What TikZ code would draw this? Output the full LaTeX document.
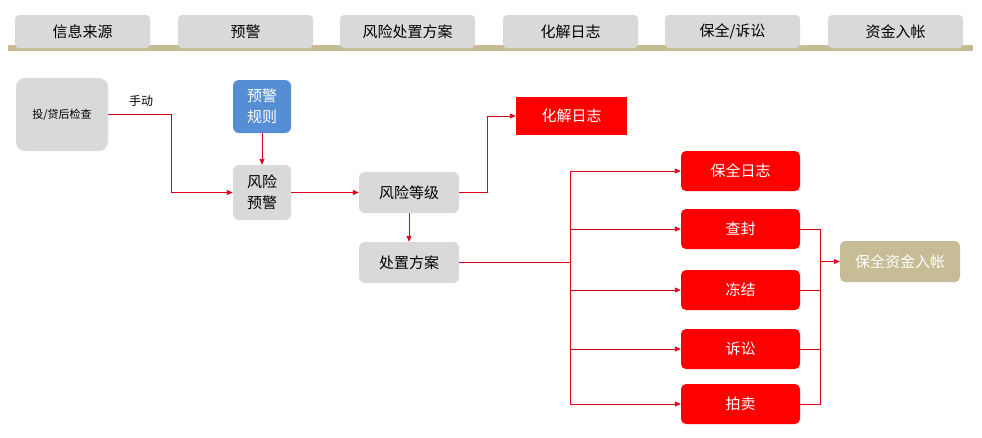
\documentclass[tikz,border=0pt]{standalone}
\usepackage{fontspec}
\setmainfont{Noto Sans CJK SC}
\usetikzlibrary{arrows.meta}
\definecolor{tabg}{HTML}{D9D9D9}
\definecolor{barc}{HTML}{C6BC96}
\definecolor{bluec}{HTML}{558ED5}
\definecolor{redc}{HTML}{FF0000}
\definecolor{linec}{HTML}{E0001B}
\begin{document}
\begin{tikzpicture}[x=1pt,y=-1pt,
  tab/.style={fill=tabg,rounded corners=4pt,minimum width=135pt,minimum height=33pt,inner sep=0pt,font=\fontsize{15}{15}\selectfont},
  gbox/.style={fill=tabg,rounded corners=6pt,inner sep=0pt,font=\fontsize{14}{17}\selectfont,align=center},
  rbox/.style={fill=redc,rounded corners=5pt,minimum width=119pt,minimum height=40pt,inner sep=0pt,text=white,font=\fontsize{15}{15}\selectfont},
  arr/.style={draw=linec,line width=0.9pt,-{Triangle[length=6pt,width=5pt]}},
  ln/.style={draw=linec,line width=0.9pt}]
\useasboundingbox (0,0) rectangle (982,437);
\fill[white] (0,0) rectangle (982,437);
\fill[barc] (8,45) rectangle (973,51);
\node[tab] (t1) at (82.5,31.5) {信息来源};
\node[tab] (t2) at (245.5,31.5) {预警};
\node[tab] (t3) at (407.5,31.5) {风险处置方案};
\node[tab] (t4) at (570.5,31.5) {化解日志};
\node[tab] (t5) at (732.5,31.5) {保全/诉讼};
\node[tab] (t6) at (895.5,31.5) {资金入帐};

\node[gbox,minimum width=92pt,minimum height=73pt,rounded corners=9pt,font=\fontsize{11}{11}\selectfont] (src) at (62,114.5) {投/贷后检查};
\node[font=\fontsize{12}{12}\selectfont] (manual) at (141,101) {手动};
\node[fill=bluec,rounded corners=6pt,minimum width=58pt,minimum height=53pt,inner sep=0pt,text=white,align=center,font=\fontsize{15}{21}\selectfont] (rule) at (262,106.5) {预警\\规则};
\node[gbox,minimum width=58pt,minimum height=55pt,font=\fontsize{15}{21}\selectfont] (warn) at (262,192.5) {风险\\预警};
\node[gbox,minimum width=100pt,minimum height=41pt,font=\fontsize{15}{15}\selectfont] (level) at (409,192.5) {风险等级};
\node[gbox,minimum width=100pt,minimum height=41pt,font=\fontsize{15}{15}\selectfont] (plan) at (409,262.5) {处置方案};
\node[fill=redc,minimum width=111pt,minimum height=38pt,inner sep=0pt,text=white,font=\fontsize{15}{15}\selectfont] (resolve) at (571.5,116) {化解日志};
\node[rbox] (r1) at (740.5,171) {保全日志};
\node[rbox] (r2) at (740.5,229) {查封};
\node[rbox] (r3) at (740.5,290) {冻结};
\node[rbox] (r4) at (740.5,349) {诉讼};
\node[rbox] (r5) at (740.5,404) {拍卖};
\node[fill=barc,rounded corners=5pt,minimum width=120pt,minimum height=41pt,inner sep=0pt,text=white,font=\fontsize{15}{15}\selectfont] (fund) at (900,261.5) {保全资金入帐};
\coordinate (trunk) at (570,262.5);
\coordinate (merge) at (820,261.5);

\draw[arr] (src.east) -| (171,192.5) -- (warn.west);
\draw[arr] (rule) -- (warn);
\draw[arr] (warn) -- (level);
\draw[arr] (level.east) -| (487,116) -- (resolve.west);
\draw[arr] (level) -- (plan);
\draw[ln] (plan.east) -- (trunk);
\draw[ln] (570,171) -- (570,404);
\foreach \r in {r1,r2,r3,r4,r5} \draw[arr] (570,0 |- \r.west) -- (\r.west);
\foreach \r in {r2,r3,r4,r5} \draw[ln] (\r.east) -| (merge);
\draw[arr] (merge) -- (fund.west);
\end{tikzpicture}
\end{document}
